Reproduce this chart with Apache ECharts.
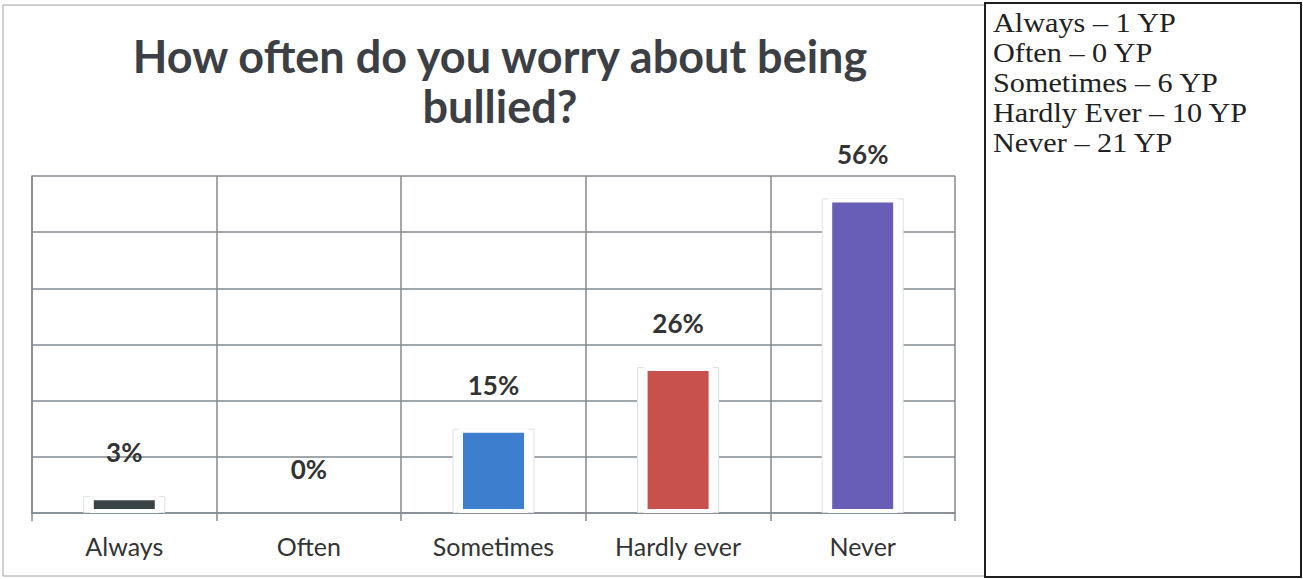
<!DOCTYPE html>
<html>
<head>
<meta charset="utf-8">
<script src="https://cdn.jsdelivr.net/npm/echarts@6/dist/echarts.min.js"></script>
<style>
  html, body { margin: 0; padding: 0; background: #ffffff; }
  #chart { width: 1303px; height: 579px; }
</style>
</head>
<body>
<div id="chart"></div>
<script>
// Survey answers: "How often do you worry about being bullied?"
const categories = ['Always', 'Often', 'Sometimes', 'Hardly ever', 'Never'];
const percentages = [3, 0, 15, 26, 56];

// Head counts of young people (YP) per answer, listed in the side panel
const panelNames = ['Always', 'Often', 'Sometimes', 'Hardly Ever', 'Never'];
const youngPeople = [1, 0, 6, 10, 21];

// Value axis range (percent)
const yMin = 0;
const yMax = 60;
const yStep = 10;

// Styling
const barColors = ['#3a4446', '#3a4446', '#3e7ecf', '#c8514c', '#695eb5'];
const gridColor = '#838a90';
const labelFont = 'Lato, "Open Sans", sans-serif';
const serifFont = '"Liberation Serif", "Times New Roman", serif';

const chart = echarts.init(document.getElementById('chart'), null, { renderer: 'svg' });

// one text line per answer in the side panel (slightly widened serif face)
const panelLines = panelNames.map((n, i) => ({
  type: 'text',
  x: 993,
  y: 8 + i * 30,
  scaleX: 1.12,
  style: {
    text: n + ' \u2013 ' + youngPeople[i] + ' YP',
    fontFamily: serifFont,
    fontSize: 27,
    lineHeight: 30,
    fill: '#222222',
    verticalAlign: 'top'
  },
  silent: true
}));

const option = {
  backgroundColor: '#ffffff',
  animation: false,
  title: {
    text: 'How often do you worry about being\nbullied?',
    left: 495,
    top: 26,
    textAlign: 'center',
    textStyle: {
      fontFamily: labelFont,
      fontWeight: 'bold',
      fontSize: 45,
      lineHeight: 50,
      color: '#3c4044'
    }
  },
  grid: {
    left: 32,
    right: 348,
    top: 176,
    bottom: 66,
    outerBoundsMode: 'none'
  },
  xAxis: [
    {
      type: 'category',
      data: categories,
      boundaryGap: true,
      axisLine: { show: true, lineStyle: { color: gridColor, width: 1.5 } },
      axisTick: { show: true, length: 8, lineStyle: { color: gridColor, width: 1.5 } },
      splitLine: { show: true, lineStyle: { color: gridColor, width: 1.5 } },
      axisLabel: { color: '#333333', fontFamily: labelFont, fontSize: 25, margin: 20 }
    },
    {
      type: 'category',
      data: categories,
      boundaryGap: true,
      show: false
    }
  ],
  yAxis: {
    type: 'value',
    min: yMin,
    max: yMax,
    interval: yStep,
    axisLine: { show: true, lineStyle: { color: gridColor, width: 1.5 } },
    axisTick: { show: false },
    axisLabel: { show: false },
    splitLine: { show: true, lineStyle: { color: gridColor, width: 1.5 } }
  },
  series: [
    {
      // white glow behind each column
      type: 'bar',
      xAxisIndex: 1,
      barWidth: 82,
      silent: true,
      data: percentages.map(v => (v > 0 ? v : '-')),
      itemStyle: { color: '#ffffff', borderColor: '#dde1e6', borderWidth: 1 }
    },
    {
      type: 'bar',
      xAxisIndex: 0,
      barWidth: 69,
      data: percentages.map((v, i) => ({
        value: v,
        itemStyle: { color: barColors[i], borderWidth: v > 0 ? 4 : 0 }
      })),
      itemStyle: { borderColor: '#ffffff' },
      label: {
        show: true,
        position: 'top',
        distance: 31,
        formatter: p => p.value + '%',
        fontFamily: labelFont,
        fontWeight: 'bold',
        fontSize: 26,
        color: '#333333'
      }
    }
  ],
  graphic: [
    {
      type: 'rect',
      shape: { x: 3, y: 5, width: 982, height: 571 },
      style: { fill: 'none', stroke: '#a3a3a3', lineWidth: 1 },
      silent: true
    },
    {
      type: 'rect',
      shape: { x: 985, y: 3, width: 316, height: 574 },
      style: { fill: 'none', stroke: '#1e1e1e', lineWidth: 2 },
      silent: true
    }
  ].concat(panelLines)
};

chart.setOption(option);
</script>
</body>
</html>
